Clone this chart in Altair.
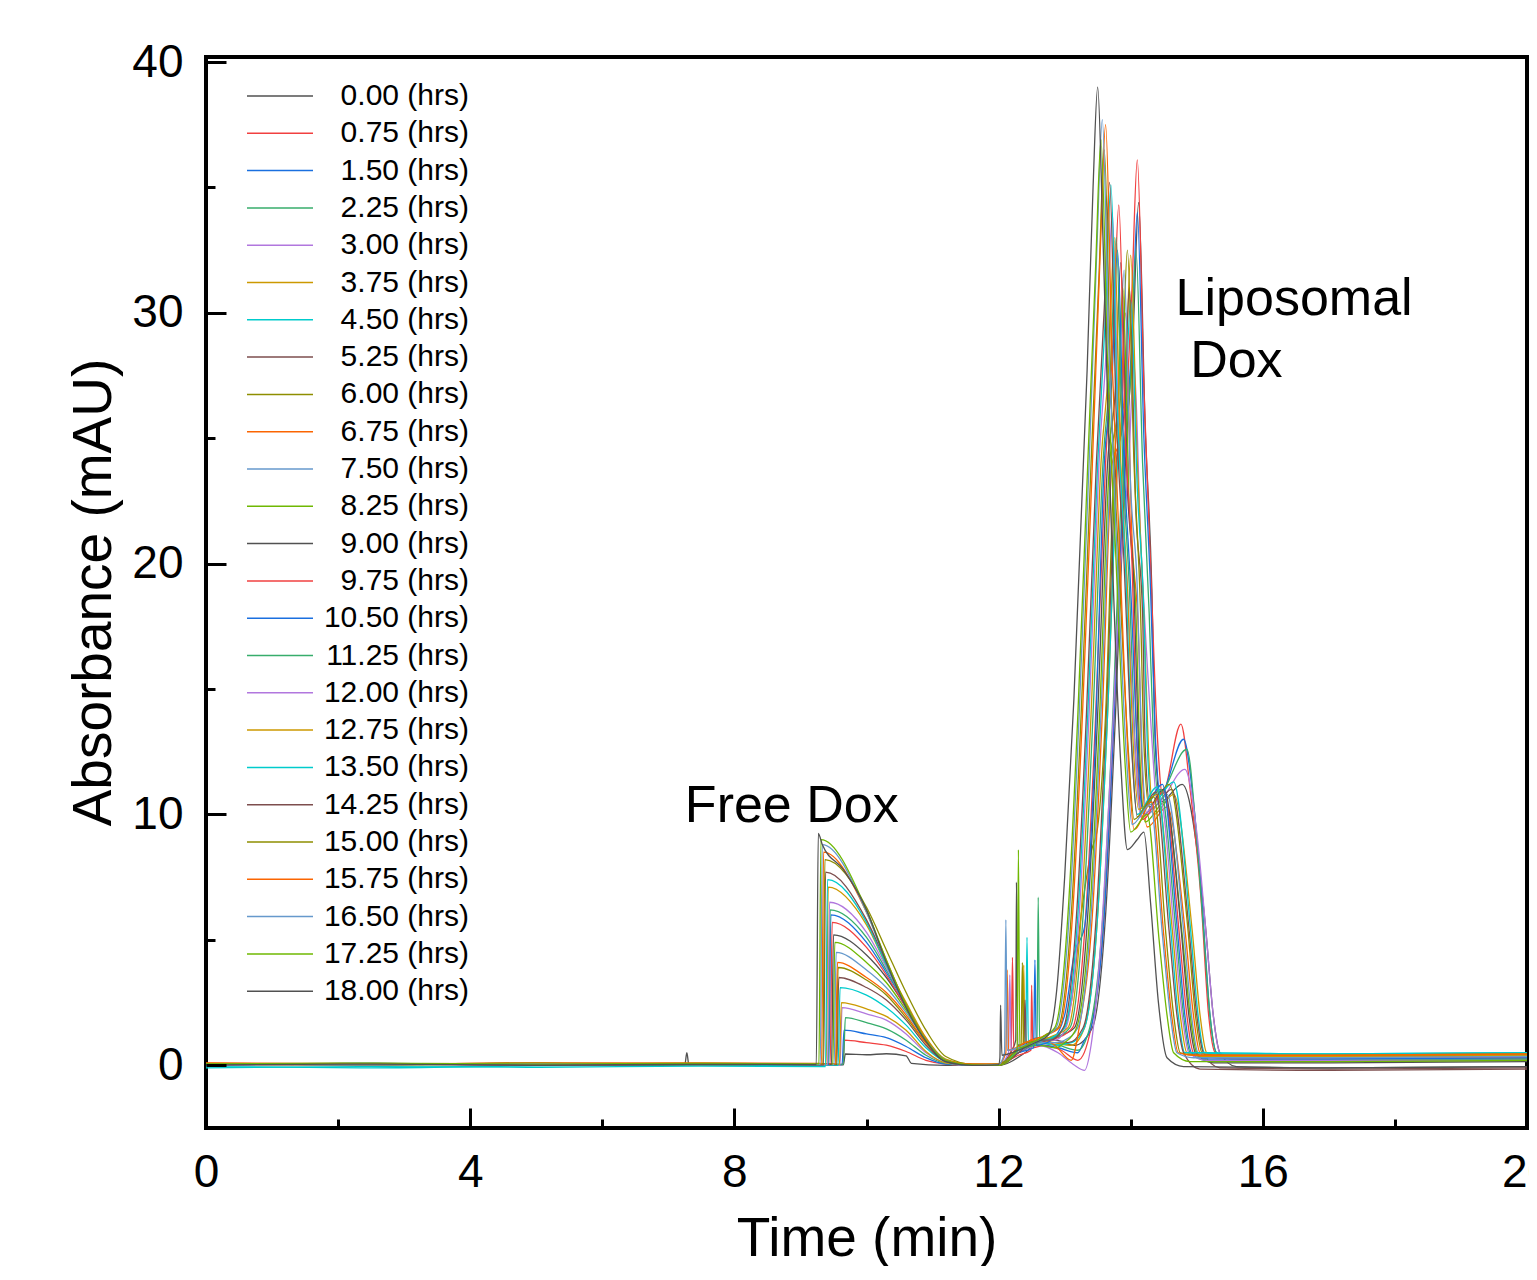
import altair as alt
import pandas as pd

FONT = "Liberation Sans, Arial, Helvetica, sans-serif"

SERIES = ["0.00 (hrs)", "0.75 (hrs)", "1.50 (hrs)", "2.25 (hrs)", "3.00 (hrs)",
          "3.75 (hrs)", "4.50 (hrs)", "5.25 (hrs)", "6.00 (hrs)", "6.75 (hrs)",
          "7.50 (hrs)", "8.25 (hrs)", "9.00 (hrs)", "9.75 (hrs)", "10.50 (hrs)",
          "11.25 (hrs)", "12.00 (hrs)", "12.75 (hrs)", "13.50 (hrs)", "14.25 (hrs)",
          "15.00 (hrs)", "15.75 (hrs)", "16.50 (hrs)", "17.25 (hrs)", "18.00 (hrs)"]

COLORS = ["#515151", "#F14040", "#1A6FDF", "#37AD6B", "#B177DE", "#CC9900",
          "#00CBCC", "#7D4E4E", "#8E8E00", "#FB6501", "#6699CC", "#6FB802",
          "#515151", "#F14040", "#1A6FDF", "#37AD6B", "#B177DE", "#CC9900",
          "#00CBCC", "#7D4E4E", "#8E8E00", "#FB6501", "#6699CC", "#6FB802",
          "#515151"]

X_MAJOR = [0, 4, 8, 12, 16, 20]
X_MINOR = [2, 6, 10, 14, 18]
Y_MAJOR = [0, 10, 20, 30, 40]
Y_MINOR = [5, 15, 25, 35]

ANN_TEXT = ["Free Dox", "Liposomal", "Dox"]
ANN_T = [7.25, 14.68, 14.9]
ANN_Y = [9.7, 29.9, 27.45]

tr00 = [(0, 0.02), (2.5, 0.06), (5, 0.0), (7.5, 0.04), (9.65, 0.02), (9.68, 0.45), (10.0, 0.42), (10.3, 0.46),
        (10.6, 0.38), (10.68, 0.08), (11.2, 0.0), (11.6, 0.02), (12.0, 0.0), (12.4, 0.5), (12.6, 0.9), (12.9, 0.9),
        (13.15, 0.8), (13.42, 1.5), (13.62, 6), (13.77, 14), (13.92, 24), (14.04, 29.4), (14.12, 34.4), (14.22, 25.4),
        (14.32, 19), (14.37, 13), (14.45, 10.5), (14.78, 11.2), (15.13, 5.6), (15.25, 2.0), (15.35, 0.5),
        (15.6, -0.05), (17.0, -0.1), (20.0, -0.05)]
tr01 = [(0, 0.05), (2.5, 0.02), (5, 0.07), (7.5, 0.03), (9.64, 0.05), (9.67, 1.0), (10.0, 0.9), (10.3, 0.8),
        (10.6, 0.55), (10.9, 0.2), (11.2, 0.05), (11.6, 0.0), (12.0, 0.05), (12.3, 0.4), (12.49, 0.6), (12.5, 3.2),
        (12.52, 0.7), (12.7, 0.8), (12.95, 0.6), (13.2, 0.2), (13.4, 1.5), (13.6, 6), (13.75, 14), (13.9, 24),
        (14.02, 31), (14.10, 36.1), (14.2, 27), (14.3, 20), (14.4, 13.3), (14.48, 10.8), (14.76, 13.6), (14.9, 11),
        (15.06, 6.8), (15.18, 2.0), (15.28, 0.5), (15.55, 0.25), (17.0, 0.2), (20.0, 0.25)]
tr02 = [(0, 0.03), (2.5, 0.08), (5, 0.02), (7.5, 0.06), (9.63, 0.03), (9.66, 1.4), (10.0, 1.25), (10.3, 1.1),
        (10.6, 0.75), (10.9, 0.3), (11.2, 0.05), (11.6, 0.02), (12.0, 0.0), (12.3, 0.5), (12.6, 0.8), (12.9, 0.7),
        (13.2, 0.5), (13.3, 1.0), (13.4, 1.5), (13.6, 6), (13.75, 14), (13.9, 24), (14.02, 29), (14.10, 34.0),
        (14.2, 25), (14.3, 19), (14.37, 13.3), (14.45, 10.8), (14.80, 13.0), (14.95, 10.5), (15.08, 6.5),
        (15.2, 2.0), (15.30, 0.5), (15.55, 0.3), (17.0, 0.25), (20.0, 0.3)]
tr03 = [(0, 0.06), (2.5, 0.03), (5, 0.08), (7.5, 0.02), (9.65, 0.05), (9.68, 1.9), (10.0, 1.7), (10.3, 1.45),
        (10.6, 1.0), (10.9, 0.4), (11.2, 0.08), (11.6, 0.0), (12.0, 0.03), (12.3, 0.6), (12.6, 0.9), (12.9, 0.8),
        (13.2, 0.6), (13.38, 1.5), (13.58, 6), (13.73, 14), (13.88, 24), (14.0, 27.5), (14.08, 32.5), (14.18, 24),
        (14.28, 18), (14.34, 13.3), (14.42, 10.8), (14.85, 12.6), (15.0, 9), (15.1, 5.5), (15.2, 2.0), (15.3, 0.5),
        (15.55, 0.35), (17.0, 0.3), (20.0, 0.3)]
tr04 = [(0, 0.0), (2.5, 0.05), (5, 0.02), (7.5, 0.06), (9.6, 0.02), (9.63, 2.3), (10.0, 2.05), (10.3, 1.8),
        (10.6, 1.25), (10.9, 0.5), (11.2, 0.1), (11.6, 0.0), (12.0, 0.02), (12.3, 0.5), (12.6, 0.8), (12.9, 0.5),
        (13.15, 0.0), (13.3, -0.2), (13.4, 0.8), (13.55, 5), (13.7, 12), (13.85, 20), (13.97, 24), (14.05, 28.0),
        (14.15, 21), (14.25, 16), (14.32, 13), (14.40, 10.5), (14.82, 11.8), (15.0, 9.3), (15.15, 5), (15.25, 2.0),
        (15.35, 0.5), (15.6, 0.2), (17.0, 0.15), (20.0, 0.2)]
tr05 = [(0, 0.04), (2.5, 0.01), (5, 0.06), (7.5, 0.03), (9.59, 0.04), (9.62, 2.5), (10.0, 2.25), (10.3, 1.95),
        (10.6, 1.4), (10.9, 0.55), (11.2, 0.1), (11.6, 0.03), (12.0, 0.0), (12.3, 0.5), (12.6, 1.0), (12.85, 0.9),
        (13.1, 0.8), (13.3, 1.5), (13.5, 6), (13.65, 14), (13.8, 24), (13.92, 27.3), (14.0, 32.3), (14.1, 24),
        (14.2, 18), (14.27, 12.5), (14.35, 10.0), (14.65, 10.8), (14.93, 5.4), (15.05, 2.0), (15.15, 0.5),
        (15.4, 0.3), (17.0, 0.3), (20.0, 0.35)]
tr06 = [(0, -0.05), (2.5, -0.1), (5, -0.02), (7.5, 0.0), (9.57, 0.0), (9.6, 3.1), (10.0, 2.8), (10.3, 2.3),
        (10.6, 1.6), (10.9, 0.7), (11.2, 0.15), (11.6, 0.0), (12.0, 0.05), (12.3, 0.6), (12.6, 0.9), (12.85, 0.8),
        (13.1, 0.9), (13.3, 1.5), (13.5, 6), (13.65, 14), (13.8, 24), (13.92, 26.5), (14.0, 30.5), (14.1, 23),
        (14.2, 18), (14.25, 12.9), (14.32, 10.4), (14.65, 11.3), (14.9, 5.6), (15.02, 2.0), (15.12, 0.5),
        (15.4, 0.45), (17.0, 0.45), (20.0, 0.5)]
tr07 = [(0, 0.03), (2.5, 0.06), (5, 0.01), (7.5, 0.05), (9.55, 0.03), (9.58, 3.5), (10.0, 3.1), (10.3, 2.6),
        (10.6, 1.8), (10.9, 0.8), (11.2, 0.15), (11.6, 0.0), (12.0, 0.0), (12.3, 0.5), (12.6, 0.9), (12.85, 1.0),
        (13.05, 0.9), (13.28, 1.5), (13.48, 6), (13.63, 14), (13.78, 24), (13.9, 26), (13.98, 31.0), (14.08, 22),
        (14.18, 18), (14.22, 12.7), (14.30, 10.2), (14.62, 11.0), (14.88, 5.5), (15.0, 2.0), (15.10, 0.5),
        (15.35, -0.1), (17.0, -0.15), (20.0, -0.1)]
tr08 = [(0, 0.06), (2.5, 0.02), (5, 0.05), (7.5, 0.08), (9.54, 0.05), (9.57, 3.9), (10.0, 3.4), (10.3, 2.8),
        (10.6, 1.9), (10.9, 0.9), (11.2, 0.2), (11.6, 0.02), (12.0, 0.0), (12.3, 0.6), (12.6, 1.0), (12.9, 1.2),
        (13.1, 2.5), (13.25, 6), (13.4, 8.5), (13.5, 9.5), (13.62, 14), (13.75, 24), (13.87, 27.5), (13.95, 32.5),
        (14.05, 24), (14.15, 18), (14.2, 12.8), (14.28, 10.3), (14.58, 11.2), (14.86, 5.6), (14.98, 2.0),
        (15.08, 0.5), (15.35, 0.3), (17.0, 0.3), (20.0, 0.35)]
tr09 = [(0, 0.08), (2.5, 0.04), (5, 0.1), (7.5, 0.05), (9.53, 0.06), (9.56, 4.1), (10.0, 3.5), (10.3, 2.9),
        (10.6, 2.0), (10.9, 0.9), (11.2, 0.2), (11.6, 0.05), (12.0, 0.05), (12.3, 0.7), (12.6, 1.1), (12.85, 0.8),
        (13.1, 0.2), (13.22, 1.5), (13.42, 6), (13.57, 14), (13.72, 24), (13.84, 25), (13.92, 30.0), (14.02, 21),
        (14.12, 17), (14.17, 12), (14.25, 9.5), (14.55, 10.3), (14.83, 5.2), (14.95, 2.0), (15.05, 0.5),
        (15.3, 0.4), (17.0, 0.35), (20.0, 0.4)]
tr10 = [(0, 0.02), (2.5, 0.07), (5, 0.03), (7.5, 0.05), (9.51, 0.03), (9.54, 4.5), (10.0, 3.8), (10.3, 3.1),
        (10.6, 2.1), (10.9, 1.0), (11.2, 0.2), (11.6, 0.0), (12.0, 0.02), (12.3, 0.5), (12.6, 0.9), (12.85, 0.9),
        (13.0, 1.0), (13.2, 1.5), (13.4, 6), (13.55, 14), (13.7, 24), (13.82, 26.7), (13.90, 31.7), (14.0, 23),
        (14.1, 19), (14.17, 12.5), (14.25, 10.0), (14.55, 10.8), (14.8, 5.4), (14.92, 2.0), (15.02, 0.5),
        (15.3, 0.3), (17.0, 0.3), (20.0, 0.3)]
tr11 = [(0, 0.07), (2.5, 0.03), (5, 0.08), (7.5, 0.02), (9.49, 0.05), (9.52, 4.9), (10.0, 4.1), (10.3, 3.3),
        (10.6, 2.2), (10.9, 1.0), (11.2, 0.2), (11.6, 0.02), (12.0, 0.0), (12.3, 0.6), (12.6, 0.8), (12.85, 0.7),
        (13.0, 0.9), (13.18, 1.5), (13.38, 6), (13.53, 14), (13.68, 24), (13.8, 26), (13.88, 31.0), (13.98, 22),
        (14.08, 18), (14.14, 12.2), (14.22, 9.7), (14.52, 10.5), (14.78, 5.2), (14.9, 2.0), (15.0, 0.5),
        (15.25, 0.15), (17.0, 0.15), (20.0, 0.2)]
tr12 = [(0, 0.03), (2.5, 0.05), (5, 0.02), (7.25, 0.03), (7.28, 0.5), (7.31, 0.03), (9.47, 0.04), (9.5, 5.2),
        (10.0, 4.4), (10.3, 3.5), (10.6, 2.3), (10.9, 1.0), (11.2, 0.2), (11.6, 0.0), (12.0, 0.05), (12.2, 0.6),
        (12.26, 1.0), (12.27, 7.3), (12.29, 0.8), (12.5, 0.9), (12.75, 1.0), (12.95, 1.2), (13.15, 1.5), (13.35, 6),
        (13.5, 14), (13.65, 24), (13.77, 27), (13.85, 32.0), (13.95, 23), (14.05, 19), (14.12, 12.5), (14.20, 10.0),
        (14.50, 11.0), (14.76, 5.5), (14.88, 2.0), (14.98, 0.5), (15.25, 0.1), (17.0, 0.1), (20.0, 0.15)]
tr13 = [(0, 0.05), (2.5, 0.02), (5, 0.07), (7.5, 0.04), (9.45, 0.05), (9.48, 5.7), (10.0, 4.7), (10.3, 3.6),
        (10.6, 2.3), (10.9, 1.0), (11.2, 0.2), (11.6, 0.02), (12.0, 0.0), (12.19, 0.5), (12.21, 4.3), (12.23, 0.6),
        (12.5, 0.9), (12.75, 1.0), (12.9, 1.1), (13.12, 1.5), (13.32, 6), (13.47, 14), (13.62, 24), (13.74, 29.3),
        (13.82, 34.3), (13.92, 25), (14.02, 20), (14.1, 12.3), (14.18, 9.8), (14.50, 10.9), (14.73, 5.4),
        (14.85, 2.0), (14.95, 0.5), (15.2, 0.3), (17.0, 0.3), (20.0, 0.3)]
tr14 = [(0, 0.04), (2.5, 0.08), (5, 0.03), (7.5, 0.06), (9.43, 0.04), (9.46, 6.0), (10.0, 4.9), (10.3, 3.7),
        (10.6, 2.4), (10.9, 1.05), (11.2, 0.2), (11.6, 0.0), (12.0, 0.03), (12.3, 0.5), (12.53, 0.7), (12.55, 4.2),
        (12.57, 0.8), (12.8, 1.0), (13.0, 2.0), (13.15, 4.5), (13.3, 5.5), (13.45, 12), (13.6, 24), (13.72, 27.5),
        (13.80, 32.5), (13.9, 24), (14.0, 19), (14.1, 12.7), (14.18, 10.2), (14.48, 11.2), (14.7, 5.6), (14.82, 2.0),
        (14.92, 0.5), (15.2, 0.25), (17.0, 0.25), (20.0, 0.3)]
tr15 = [(0, 0.06), (2.5, 0.03), (5, 0.05), (7.5, 0.02), (9.42, 0.05), (9.45, 6.2), (10.0, 5.1), (10.3, 3.8),
        (10.6, 2.4), (10.9, 1.05), (11.2, 0.2), (11.6, 0.03), (12.0, 0.0), (12.3, 0.6), (12.58, 0.9), (12.6, 6.7),
        (12.62, 1.0), (12.85, 1.1), (13.08, 1.5), (13.28, 6), (13.43, 14), (13.58, 24), (13.7, 28), (13.78, 33.0),
        (13.88, 24), (13.98, 19), (14.07, 12.6), (14.15, 10.1), (14.45, 11.0), (14.68, 5.5), (14.8, 2.0),
        (14.9, 0.5), (15.15, 0.2), (17.0, 0.2), (20.0, 0.25)]
tr16 = [(0, 0.02), (2.5, 0.06), (5, 0.01), (7.5, 0.05), (9.41, 0.03), (9.44, 6.5), (10.0, 5.3), (10.3, 3.9),
        (10.6, 2.4), (10.9, 1.0), (11.2, 0.2), (11.6, 0.0), (12.0, 0.02), (12.15, 0.5), (12.17, 3.6), (12.19, 0.6),
        (12.45, 0.9), (12.7, 1.0), (12.85, 1.0), (13.02, 1.5), (13.22, 6), (13.37, 14), (13.52, 24), (13.64, 29),
        (13.72, 34.0), (13.82, 25), (13.95, 19), (14.07, 12.4), (14.15, 9.9), (14.45, 10.6), (14.66, 5.3),
        (14.78, 2.0), (14.88, 0.5), (15.15, 0.2), (17.0, 0.2), (20.0, 0.2)]
tr17 = [(0, 0.05), (2.5, 0.08), (5, 0.04), (7.5, 0.07), (9.39, 0.05), (9.42, 7.1), (10.0, 5.6), (10.3, 4.0),
        (10.6, 2.5), (10.9, 1.1), (11.2, 0.25), (11.6, 0.05), (12.0, 0.03), (12.3, 0.6), (12.37, 0.8), (12.38, 4.0),
        (12.4, 0.9), (12.65, 1.0), (12.85, 1.2), (13.05, 1.5), (13.25, 6), (13.4, 14), (13.55, 24), (13.67, 28),
        (13.75, 33.0), (13.85, 24), (13.95, 19), (14.04, 12.7), (14.12, 10.2), (14.40, 10.8), (14.63, 5.4),
        (14.75, 2.0), (14.85, 0.5), (15.1, 0.35), (17.0, 0.35), (20.0, 0.4)]
tr18 = [(0, -0.1), (2.5, -0.05), (5, -0.08), (7.5, -0.03), (9.38, -0.05), (9.41, 7.4), (10.0, 5.7), (10.3, 4.0),
        (10.6, 2.4), (10.9, 1.0), (11.2, 0.2), (11.6, 0.0), (12.0, 0.05), (12.3, 0.6), (12.41, 0.8), (12.43, 5.1),
        (12.45, 0.9), (12.7, 1.0), (12.8, 1.1), (13.0, 1.5), (13.2, 6), (13.35, 14), (13.5, 24), (13.62, 30),
        (13.70, 35.1), (13.8, 26), (13.92, 20), (14.02, 12.5), (14.10, 10.0), (14.40, 11.1), (14.6, 5.6),
        (14.72, 2.0), (14.82, 0.5), (15.1, 0.5), (17.0, 0.45), (20.0, 0.5)]
tr19 = [(0, 0.02), (2.5, 0.05), (5, 0.0), (7.5, 0.03), (9.35, 0.02), (9.38, 7.7), (10.0, 5.8), (10.3, 4.1),
        (10.6, 2.4), (10.9, 1.0), (11.2, 0.2), (11.6, 0.0), (12.0, 0.0), (12.3, 0.5), (12.38, 0.7), (12.40, 2.6),
        (12.42, 0.8), (12.65, 1.0), (12.78, 1.0), (12.98, 1.5), (13.18, 6), (13.33, 14), (13.48, 24), (13.6, 30.2),
        (13.68, 35.2), (13.78, 26), (13.9, 20), (14.02, 12.4), (14.10, 9.9), (14.38, 10.9), (14.58, 5.4),
        (14.7, 2.0), (14.80, 0.5), (15.05, -0.15), (17.0, -0.2), (20.0, -0.15)]
tr20 = [(0, 0.08), (2.5, 0.05), (5, 0.09), (7.5, 0.06), (9.34, 0.07), (9.37, 8.2), (10.0, 6.3), (10.3, 4.6),
        (10.6, 2.9), (10.9, 1.4), (11.2, 0.35), (11.6, 0.05), (12.0, 0.05), (12.3, 0.7), (12.34, 0.8), (12.36, 4.1),
        (12.38, 0.9), (12.6, 1.0), (12.7, 1.2), (12.9, 1.5), (13.1, 6), (13.25, 14), (13.4, 24), (13.52, 31.5),
        (13.60, 36.5), (13.7, 27), (13.82, 20), (13.97, 12.3), (14.05, 9.8), (14.35, 10.7), (14.53, 5.3),
        (14.65, 2.0), (14.75, 0.5), (15.0, 0.4), (17.0, 0.4), (20.0, 0.45)]
tr21 = [(0, 0.1), (2.5, 0.06), (5, 0.08), (7.5, 0.1), (9.32, 0.08), (9.35, 8.5), (10.0, 6.1), (10.3, 4.2),
        (10.6, 2.4), (10.9, 1.05), (11.2, 0.2), (11.6, 0.05), (12.0, 0.05), (12.11, 0.5), (12.13, 3.8), (12.15, 0.6),
        (12.4, 0.9), (12.62, 1.1), (12.72, 1.2), (12.92, 1.5), (13.12, 6), (13.27, 14), (13.42, 24), (13.54, 32.5),
        (13.62, 37.5), (13.72, 28), (13.84, 20), (13.97, 11.9), (14.05, 9.4), (14.32, 10.5), (14.5, 5.2),
        (14.62, 2.0), (14.72, 0.5), (14.95, 0.4), (17.0, 0.4), (20.0, 0.45)]
tr22 = [(0, 0.04), (2.5, 0.02), (5, 0.06), (7.5, 0.03), (9.3, 0.04), (9.33, 8.8), (10.0, 6.1), (10.3, 4.1),
        (10.6, 2.3), (10.9, 1.0), (11.2, 0.2), (11.6, 0.0), (12.0, 0.03), (12.09, 0.5), (12.11, 5.8), (12.13, 0.6),
        (12.4, 0.8), (12.62, 1.0), (12.67, 1.1), (12.87, 1.5), (13.07, 6), (13.22, 14), (13.37, 24), (13.49, 32.7),
        (13.57, 37.7), (13.67, 28.5), (13.8, 20), (13.94, 12.1), (14.02, 9.6), (14.30, 10.4), (14.48, 5.2),
        (14.6, 2.0), (14.70, 0.5), (14.95, 0.3), (17.0, 0.3), (20.0, 0.35)]
tr23 = [(0, 0.06), (2.5, 0.09), (5, 0.05), (7.5, 0.08), (9.28, 0.06), (9.31, 9.0), (10.0, 6.2), (10.3, 4.2),
        (10.6, 2.4), (10.9, 1.0), (11.2, 0.2), (11.6, 0.02), (12.0, 0.0), (12.28, 0.6), (12.30, 8.6), (12.32, 0.7),
        (12.5, 0.9), (12.65, 1.1), (12.85, 1.5), (13.05, 6), (13.2, 14), (13.35, 24), (13.47, 31.9), (13.55, 36.9),
        (13.65, 28), (13.78, 20), (13.92, 11.8), (14.0, 9.3), (14.25, 10.0), (14.43, 5.0), (14.55, 2.0),
        (14.65, 0.5), (14.9, 0.15), (17.0, 0.15), (20.0, 0.2)]
tr24 = [(0, 0.02), (2.5, 0.05), (5, 0.01), (7.5, 0.04), (9.24, 0.03), (9.27, 9.25), (9.33, 8.8), (9.65, 7.8),
        (10.0, 6.2), (10.3, 4.1), (10.6, 2.3), (10.9, 0.95), (11.2, 0.15), (11.6, 0.0), (12.0, 0.02), (12.02, 0.3),
        (12.03, 2.4), (12.05, 0.4), (12.3, 0.6), (12.55, 0.9), (12.75, 1.2), (12.88, 3.0), (13.0, 7.5),
        (13.14, 14.6), (13.34, 27.7), (13.43, 35.0), (13.50, 39.0), (13.58, 33), (13.7, 22), (13.85, 12),
        (13.95, 8.6), (14.1, 9.0), (14.2, 9.3), (14.3, 6.5), (14.42, 2.5), (14.55, 0.3), (14.8, -0.05),
        (17.0, -0.1), (20.0, -0.05)]

TRACES = [tr00, tr01, tr02, tr03, tr04, tr05, tr06, tr07, tr08, tr09, tr10, tr11, tr12,
          tr13, tr14, tr15, tr16, tr17, tr18, tr19, tr20, tr21, tr22, tr23, tr24]

rows = []
for k, tr in enumerate(TRACES):
    for t, a in tr:
        rows.append({"t": t, "a": a, "series": SERIES[k], "k": k})
df = pd.DataFrame(rows)

ann_df = pd.DataFrame({"t": ANN_T, "a": ANN_Y, "label": ANN_TEXT})
tick_src = pd.DataFrame({"t": [0.0], "a": [0.0]})

PLOT_W = 1321
PLOT_H = 1071

x_scale = alt.Scale(domain=[0, 20], nice=False, zero=False)
y_scale = alt.Scale(domain=[-2.5, 40.2], nice=False, zero=False)

lines = alt.Chart(df).mark_line(strokeWidth=1.3, strokeJoin="round", interpolate="monotone").encode(
    x=alt.X("t:Q", scale=x_scale,
            axis=alt.Axis(orient="bottom", values=X_MAJOR, ticks=False, tickSize=0, domain=False, grid=False,
                          labelFontSize=46, labelPadding=22, labelFlush=False, labelOverlap=False,
                          format="d", title="Time (min)", titleFontSize=55, titleFontWeight="normal",
                          titleY=127, titleBaseline="alphabetic")),
    y=alt.Y("a:Q", scale=y_scale,
            axis=alt.Axis(orient="left", values=Y_MAJOR, ticks=False, tickSize=0, domain=False, grid=False,
                          labelFontSize=46, labelPadding=23, labelFlush=False, labelOverlap=False,
                          format="d", title="Absorbance (mAU)", titleFontSize=55, titleFontWeight="normal",
                          titleAngle=270, titleX=-84, titleY=535, titleBaseline="bottom")),
    color=alt.Color("series:N", scale=alt.Scale(domain=SERIES, range=COLORS), sort=SERIES,
                    legend=alt.Legend(orient="none", legendX=59, legendY=24, title=None,
                                      symbolType="M-6.6,0H6.6", symbolSize=100, symbolStrokeWidth=1.5,
                                      labelFontSize=30, labelAlign="right", labelOffset=174,
                                      labelLimit=400, rowPadding=7.3,
                                      padding=0, symbolLimit=40)),
)

major = alt.Chart(tick_src).mark_point(opacity=0).encode(
    x=alt.X("t:Q", scale=x_scale,
            axis=alt.Axis(orient="top", offset=-PLOT_H, values=X_MAJOR, tickSize=20, tickWidth=3,
                          tickColor="black", labels=False, domain=False, grid=False, title="", zindex=1)),
    y=alt.Y("a:Q", scale=y_scale,
            axis=alt.Axis(orient="right", offset=-PLOT_W, values=Y_MAJOR, tickSize=20, tickWidth=3,
                          tickColor="black", labels=False, domain=False, grid=False, title="", zindex=1)),
)

minor = alt.Chart(tick_src).mark_point(opacity=0).encode(
    x=alt.X("t:Q", scale=x_scale,
            axis=alt.Axis(orient="top", offset=-PLOT_H, values=X_MINOR, tickSize=9, tickWidth=3,
                          tickColor="black", labels=False, domain=False, grid=False, title="", zindex=1)),
    y=alt.Y("a:Q", scale=y_scale,
            axis=alt.Axis(orient="right", offset=-PLOT_W, values=Y_MINOR, tickSize=9, tickWidth=3,
                          tickColor="black", labels=False, domain=False, grid=False, title="", zindex=1)),
)

ann = alt.Chart(ann_df).mark_text(align="left", baseline="alphabetic", fontSize=52, font=FONT,
                                  color="black").encode(
    x=alt.X("t:Q", scale=x_scale, axis=None),
    y=alt.Y("a:Q", scale=y_scale, axis=None),
    text="label:N",
)

chart = alt.layer(lines, major, minor, ann).resolve_axis(
    x="independent", y="independent"
).properties(
    width=PLOT_W, height=PLOT_H,
    autosize=alt.AutoSizeParams(type="none"),
    padding={"left": 198, "top": 49, "right": 2, "bottom": 138},
).configure_view(
    stroke="black", strokeWidth=4
).configure_axis(
    labelFont=FONT, titleFont=FONT, labelColor="black", titleColor="black"
).configure_legend(
    labelFont=FONT, labelColor="black"
)

chart.save("out.html", embed_options={"renderer": "svg", "actions": False})
